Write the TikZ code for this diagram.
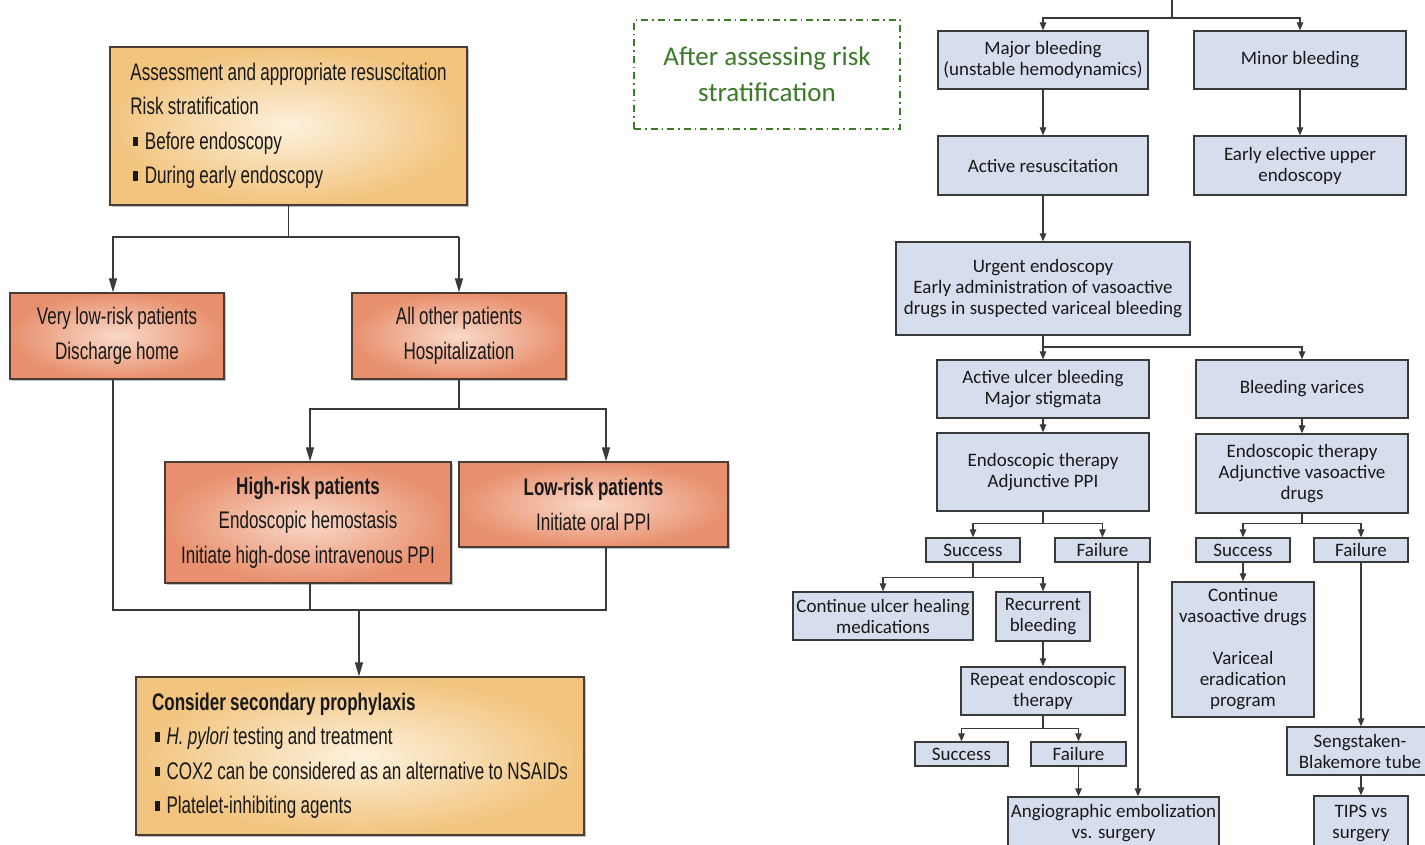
\documentclass[tikz,border=0pt]{standalone}
\usepackage{fontspec}
\usetikzlibrary{arrows.meta,shadows}
\newfontfamily\condfont{Liberation Sans}[FakeStretch=0.71,WordSpace=0.92]
\newfontfamily\rfont{Carlito}
\definecolor{peachout}{HTML}{F2C47E}
\definecolor{peachin}{HTML}{FDF1DC}
\definecolor{salmonout}{HTML}{E8906E}
\definecolor{salmonin}{HTML}{F9D9C8}
\definecolor{bluefill}{HTML}{D6DDED}
\definecolor{dkline}{HTML}{3A3A3A}
\definecolor{lborder}{HTML}{4A3C34}
\definecolor{notegreen}{HTML}{3B7A28}
\newcommand{\sqb}{\rule[3pt]{4.5pt}{9.5pt}\hspace{7pt}}
\begin{document}
\begin{tikzpicture}[x=1pt,y=-1pt,
  lbox/.style={draw=lborder, line width=1.2pt, inner sep=0pt, text=black!90,
    font=\condfont\fontsize{24}{34.5}\selectfont, align=center,
    drop shadow={shadow xshift=2pt,shadow yshift=-2pt,opacity=0.25,fill=black}},
  peachbox/.style={lbox, inner color=peachin, outer color=peachout},
  salmonbox/.style={lbox, inner color=salmonin, outer color=salmonout},
  rbox/.style={draw=dkline, line width=1.3pt, fill=bluefill, inner sep=0pt,
    align=center, text=black!90, font=\rfont\fontsize{19}{21}\selectfont},
  lline/.style={draw=dkline, line width=1.4pt},
  larr/.style={lline, -{Triangle[length=14pt,width=8pt]}},
  rline/.style={draw=dkline, line width=1.2pt},
  rarr/.style={rline, -{Triangle[length=8pt,width=6.5pt]}},
  note/.style={draw=notegreen, line width=1.6pt,
    dash pattern=on 7pt off 4pt on 1.5pt off 4pt, text=notegreen,
    font=\rfont\fontsize{27}{36}\selectfont, align=center, inner sep=0pt}]
\useasboundingbox (0,0) rectangle (1425,844);
\clip (0,0) rectangle (1425,844);
\fill[white] (0,0) rectangle (1425,844);

% ---------------- left flow ----------------
\node[peachbox, minimum width=357pt, minimum height=158pt, align=left] (A) at (288.5,126)
  {Assessment and appropriate resuscitation\\
   Risk stratification\\
   \hspace*{3pt}\sqb Before endoscopy\\
   \hspace*{3pt}\sqb During early endoscopy};
\node[salmonbox, minimum width=214pt, minimum height=86pt] (B) at (117,336)
  {Very low-risk patients\\Discharge home};
\node[salmonbox, minimum width=214pt, minimum height=86pt] (C) at (459,336)
  {All other patients\\Hospitalization};
\node[salmonbox, minimum width=286pt, minimum height=121pt] (D) at (308,522.5)
  {\bfseries High-risk patients\\Endoscopic hemostasis\\Initiate high-dose intravenous PPI};
\node[salmonbox, minimum width=269pt, minimum height=85pt] (E) at (593.5,504.5)
  {\bfseries Low-risk patients\\Initiate oral PPI};
\node[peachbox, minimum width=448pt, minimum height=158pt, align=left] (F) at (360,756)
  {{\bfseries Consider secondary prophylaxis}\\
   \hspace*{3pt}\sqb\textit{H. pylori} testing and treatment\\
   \hspace*{3pt}\sqb COX2 can be considered as an alternative to NSAIDs\\
   \hspace*{3pt}\sqb Platelet-inhibiting agents};

\coordinate (h1L) at (113,237);
\coordinate (h1R) at (459,237);
\coordinate (h2L) at (310,409);
\coordinate (h2R) at (606,409);
\coordinate (h3L) at (113,610);
\coordinate (h3R) at (606,610);
\coordinate (h3M) at (359,610);

\draw[lline] (A.south) -- (A.south |- h1L);
\draw[larr] (h1R) -- (h1L) -- (h1L |- B.north);
\draw[larr] (h1R) -- (h1R |- C.north);
\draw[lline] (C.south) -- (C.south |- h2L);
\draw[larr] (h2R) -- (h2L) -- (h2L |- D.north);
\draw[larr] (h2L) -- (h2R) -- (h2R |- E.north);
\draw[lline] (h1L |- B.south) -- (h3L) -- (h3R) -- (h3R |- E.south);
\draw[lline] (h2L |- D.south) -- (h2L |- h3L);
\draw[larr] (h3M) -- (h3M |- F.north);

% ---------------- note ----------------
\node[note, minimum width=266pt, minimum height=109pt] (N) at (767,74.5)
  {After assessing risk\\stratification};

% ---------------- right flow ----------------
\node[rbox, minimum width=210pt, minimum height=58pt] (MB) at (1043,60)
  {Major bleeding\\(unstable hemodynamics)};
\node[rbox, minimum width=212pt, minimum height=58pt] (MiB) at (1300,60)
  {Minor bleeding};
\node[rbox, minimum width=210pt, minimum height=59pt] (AR) at (1043,165.5)
  {Active resuscitation};
\node[rbox, minimum width=212pt, minimum height=59pt] (EE) at (1300,165.5)
  {Early elective upper\\endoscopy};
\node[rbox, minimum width=294pt, minimum height=93pt] (UE) at (1043,288.5)
  {Urgent endoscopy\\Early administration of vasoactive\\drugs in suspected variceal bleeding};
\node[rbox, minimum width=212pt, minimum height=58pt] (AU) at (1043,389)
  {Active ulcer bleeding\\Major stigmata};
\node[rbox, minimum width=212pt, minimum height=58pt] (BV) at (1302,389)
  {Bleeding varices};
\node[rbox, minimum width=212pt, minimum height=78pt] (ET1) at (1043,472)
  {Endoscopic therapy\\Adjunctive PPI};
\node[rbox, minimum width=212pt, minimum height=79pt] (ET2) at (1302,473.5)
  {Endoscopic therapy\\Adjunctive vasoactive\\drugs};
\node[rbox, minimum width=94pt, minimum height=24pt] (S1) at (973,550) {Success};
\node[rbox, minimum width=95pt, minimum height=24pt] (F1) at (1102.5,550) {Failure};
\node[rbox, minimum width=94pt, minimum height=24pt] (S2) at (1243,550) {Success};
\node[rbox, minimum width=94pt, minimum height=24pt] (F2) at (1361,550) {Failure};
\node[rbox, minimum width=180pt, minimum height=48pt] (CU) at (883,616)
  {Continue ulcer healing\\medications};
\node[rbox, minimum width=94pt, minimum height=49pt] (RB) at (1043,616.5)
  {Recurrent\\bleeding};
\node[rbox, minimum width=164pt, minimum height=48pt] (RE) at (1043,691)
  {Repeat endoscopic\\therapy};
\node[rbox, minimum width=93pt, minimum height=24pt] (S3) at (961.5,754) {Success};
\node[rbox, minimum width=95pt, minimum height=24pt] (F3) at (1078.5,754) {Failure};
\node[rbox, minimum width=211pt, minimum height=52pt] (AE) at (1113.5,823)
  {Angiographic embolization\\vs. surgery};
\node[rbox, minimum width=142pt, minimum height=135pt] (CV) at (1243,649.5)
  {Continue\\vasoactive drugs\\[21pt]Variceal\\eradication\\program};
\node[rbox, minimum width=146pt, minimum height=48pt] (SB) at (1360,751)
  {Sengstaken-\\Blakemore tube};
\node[rbox, minimum width=94pt, minimum height=54pt] (TV) at (1361,823)
  {TIPS vs\\surgery};

\coordinate (t0) at (1172,-2);
\coordinate (t1) at (1172,18);
\coordinate (j2) at (1043,347);
\coordinate (f1x) at (1138,0);

\draw[rline] (t0) -- (t1);
\draw[rarr] (t1) -| (MB.north);
\draw[rarr] (t1) -| (MiB.north);
\draw[rarr] (MB.south) -- (AR.north);
\draw[rarr] (MiB.south) -- (EE.north);
\draw[rarr] (AR.south) -- (UE.north);
\draw[rarr] (UE.south) -- (AU.north);
\draw[rarr] (j2) -| (BV.north);
\draw[rarr] (AU.south) -- (ET1.north);
\draw[rarr] (BV.south) -- (ET2.north);
\draw[rarr] (ET1.south) -- ++(0,12) -| (S1.north);
\draw[rarr] (ET1.south) -- ++(0,12) -| (F1.north);
\draw[rarr] (ET2.south) -- ++(0,10) -| (S2.north);
\draw[rarr] (ET2.south) -- ++(0,10) -| (F2.north);
\draw[rarr] (S1.south) -- ++(0,15) -| (CU.north);
\draw[rarr] (S1.south) -- ++(0,15) -| (RB.north);
\draw[rarr] (F1.south -| f1x) -- (AE.north -| f1x);
\draw[rarr] (RB.south) -- (RE.north);
\draw[rarr] (RE.south) -- ++(0,13) -| (S3.north);
\draw[rarr] (RE.south) -- ++(0,13) -| (F3.north);
\draw[rarr] (F3.south) -- (F3.south |- AE.north);
\draw[rarr] (S2.south) -- (CV.north);
\draw[rarr] (F2.south) -- (F2.south |- SB.north);
\draw[rarr] (SB.south -| F2.south) -- (TV.north -| F2.south);
\end{tikzpicture}
\end{document}
